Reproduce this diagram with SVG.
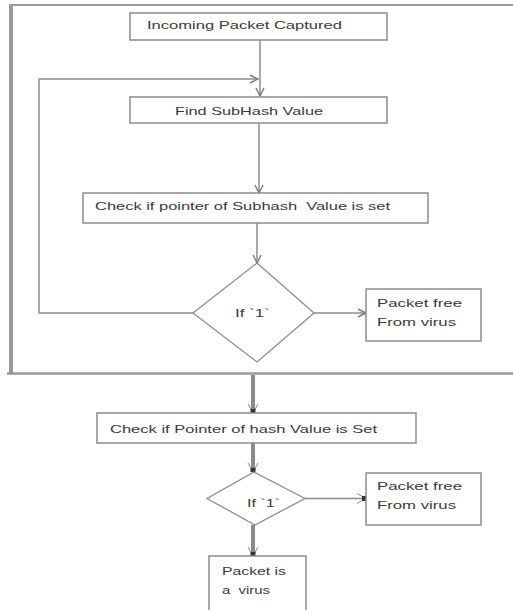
<svg xmlns="http://www.w3.org/2000/svg" width="513" height="610" viewBox="0 0 513 610">
  <style>
    .box { fill: #ffffff; stroke: #8c8c8c; stroke-width: 1.5; }
    .dia { fill: #ffffff; stroke: #8c8c8c; stroke-width: 1.3; }
    .frame { fill: none; stroke: #9a9a9a; }
    .conn { fill: none; stroke: #8c8c8c; stroke-width: 1.5; }
    .thick { fill: none; stroke: #8a8a8a; stroke-width: 4; }
    .lbl { font-family: "Liberation Sans", Arial, sans-serif; font-size: 11.5px; fill: #3a3a3a; }
  </style>
  <defs>
    <marker id="arrow" viewBox="0 0 10 10" refX="9" refY="5" markerWidth="10" markerHeight="10" markerUnits="userSpaceOnUse" orient="auto">
      <path d="M1,1 L9,5 L1,9" fill="none" stroke="#7a7a7a" stroke-width="1.4"/>
    </marker>
    <marker id="arrowDark" viewBox="0 0 12 12" refX="10" refY="6" markerWidth="12" markerHeight="12" markerUnits="userSpaceOnUse" orient="auto">
      <path d="M1,1 L10,6 L1,11" fill="none" stroke="#8a8a8a" stroke-width="1"/>
      <rect x="6" y="3.5" width="4" height="5" fill="#333333"/>
    </marker>
  </defs>

  <!-- outer frame around the subhash stage -->
  <g id="frame">
    <line class="frame" x1="11" y1="4" x2="11" y2="374" stroke-width="4"/>
    <line class="frame" x1="9" y1="5" x2="513" y2="5" stroke-width="2"/>
    <line class="frame" x1="7" y1="373.5" x2="513" y2="373.5" stroke-width="2.5"/>
  </g>

  <g id="connectors">
    <line class="conn" x1="260" y1="40" x2="260" y2="96" marker-end="url(#arrow)"/>
    <polyline class="conn" points="193,313 39,313 39,79 258,79" marker-end="url(#arrow)"/>
    <line class="conn" x1="259" y1="123" x2="259" y2="193" marker-end="url(#arrow)"/>
    <line class="conn" x1="257" y1="223" x2="257" y2="263" marker-end="url(#arrow)"/>
    <line class="conn" x1="314" y1="313" x2="366" y2="313" marker-end="url(#arrow)"/>
    <line class="thick" x1="253" y1="375" x2="253" y2="413" marker-end="url(#arrowDark)"/>
    <line class="thick" x1="253" y1="443" x2="253" y2="472" marker-end="url(#arrowDark)"/>
    <line class="conn" x1="305" y1="498.5" x2="366" y2="498.5" marker-end="url(#arrowDark)"/>
    <line class="thick" x1="253" y1="525" x2="253" y2="556" marker-end="url(#arrowDark)"/>
  </g>

  <g id="incoming">
    <rect class="box" x="130" y="13" width="257" height="27"/>
    <text class="lbl" x="147" y="29" textLength="195" lengthAdjust="spacingAndGlyphs">Incoming Packet Captured</text>
  </g>

  <g id="find-subhash">
    <rect class="box" x="130" y="97" width="257" height="26"/>
    <text class="lbl" x="175" y="115" textLength="148" lengthAdjust="spacingAndGlyphs">Find SubHash Value</text>
  </g>

  <g id="check-subhash">
    <rect class="box" x="83" y="193" width="345" height="30"/>
    <text class="lbl" x="95" y="210" textLength="295" lengthAdjust="spacingAndGlyphs" xml:space="preserve">Check if pointer of Subhash  Value is set</text>
  </g>

  <g id="decision-1">
    <polygon class="dia" points="257,263 314,313 257,362 193,313"/>
    <text class="lbl" x="235" y="317" textLength="35" lengthAdjust="spacingAndGlyphs">If `1`</text>
  </g>

  <g id="free-1">
    <rect class="box" x="366" y="289" width="115" height="52"/>
    <text class="lbl" x="377" y="307" textLength="85" lengthAdjust="spacingAndGlyphs">Packet free</text>
    <text class="lbl" x="377" y="326" textLength="79" lengthAdjust="spacingAndGlyphs">From virus</text>
  </g>

  <g id="check-hash">
    <rect class="box" x="97" y="413" width="319" height="30"/>
    <text class="lbl" x="110" y="433" textLength="267" lengthAdjust="spacingAndGlyphs">Check if Pointer of hash Value is Set</text>
  </g>

  <g id="decision-2">
    <polygon class="dia" points="254,472 305,498.5 255,525 207,498.5"/>
    <text class="lbl" x="247" y="507" textLength="33" lengthAdjust="spacingAndGlyphs">If `1`</text>
  </g>

  <g id="free-2">
    <rect class="box" x="366" y="473" width="115" height="52"/>
    <text class="lbl" x="377" y="490" textLength="85" lengthAdjust="spacingAndGlyphs">Packet free</text>
    <text class="lbl" x="377" y="509" textLength="79" lengthAdjust="spacingAndGlyphs">From virus</text>
  </g>

  <g id="virus">
    <rect class="box" x="209" y="556" width="97" height="58"/>
    <text class="lbl" x="222" y="575" textLength="64" lengthAdjust="spacingAndGlyphs">Packet is</text>
    <text class="lbl" x="222" y="594" textLength="48" lengthAdjust="spacingAndGlyphs" xml:space="preserve">a  virus</text>
  </g>
</svg>
